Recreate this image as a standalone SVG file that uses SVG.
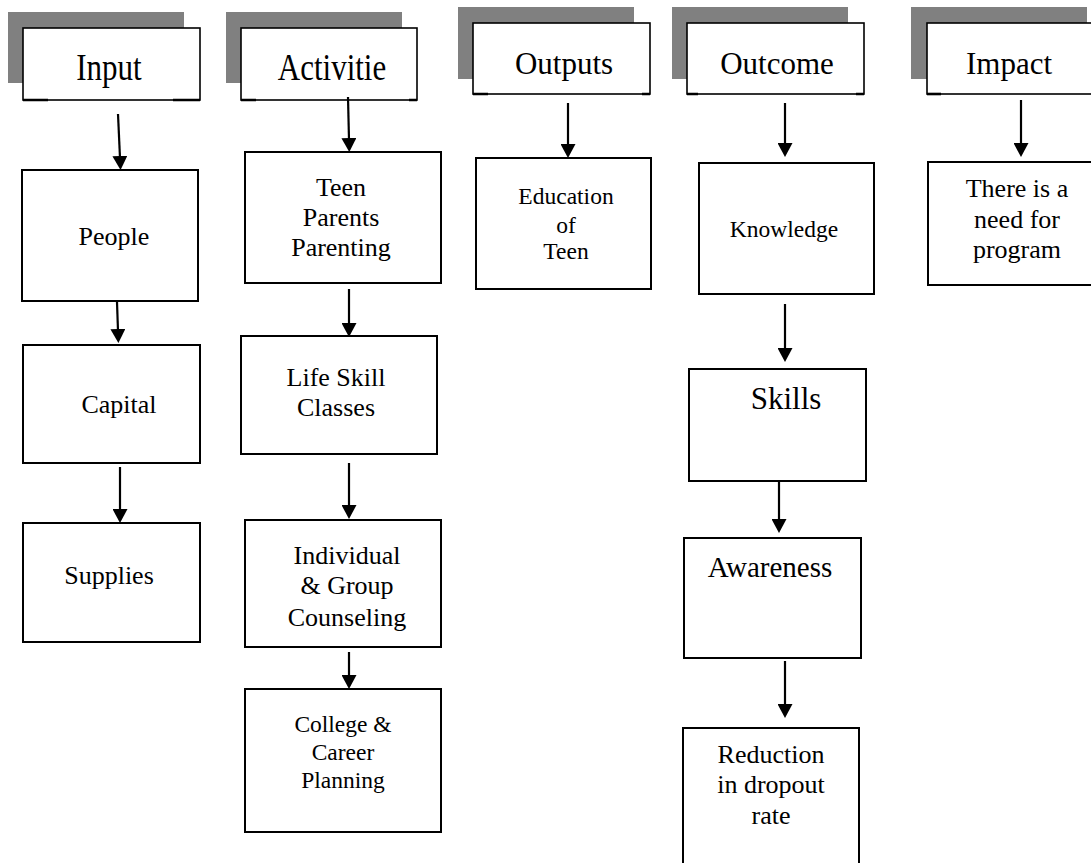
<svg xmlns="http://www.w3.org/2000/svg" width="1091" height="863" viewBox="0 0 1091 863">
<style>
text{font-family:"Liberation Serif","Times New Roman",serif;fill:#000;text-anchor:middle}
.h{font-size:31px}
.b{font-size:26px}
.s{font-size:23.5px}
.sh{fill:#808080;stroke:none}
.hb{fill:#fff;stroke:#000;stroke-width:1.6}
.hc{fill:none;stroke:#000;stroke-width:2.6}
.box{fill:#fff;stroke:#000;stroke-width:2}
.cn line{stroke:#000;stroke-width:2.2;marker-end:url(#ah)}
</style>
<defs>
<marker id="ah" markerWidth="15" markerHeight="15" refX="2" refY="7.5" orient="auto" markerUnits="userSpaceOnUse">
<path d="M0,0 L14,7.5 L0,15 Z" fill="#000"/>
</marker>
</defs>
<rect width="1091" height="863" fill="#fff"/>

<g id="h-input">
<rect class="sh" x="8" y="12" width="176" height="71"/>
<rect class="hb" x="23" y="28" width="177" height="72"/>
<path class="hc" d="M23,100 H48 M173,100 H200"/>
<text class="h" transform="translate(109,80) scale(1,1.2)">Input</text>
</g>
<g id="h-activities">
<rect class="sh" x="226" y="12" width="176" height="71"/>
<rect class="hb" x="241" y="28" width="176" height="72"/>
<path class="hc" d="M241,100 H256 M409,100 H417"/>
<text class="h" transform="translate(332,80) scale(1,1.2)">Activitie</text>
</g>
<g id="h-outputs">
<rect class="sh" x="458" y="7" width="176" height="72"/>
<rect class="hb" x="473" y="23" width="177" height="71"/>
<path class="hc" d="M473,94 H488 M642,94 H650"/>
<text class="h" x="564" y="74">Outputs</text>
</g>
<g id="h-outcome">
<rect class="sh" x="672" y="7" width="176" height="72"/>
<rect class="hb" x="687" y="23" width="177" height="71"/>
<path class="hc" d="M687,94 H698 M856,94 H864"/>
<text class="h" x="777" y="74">Outcome</text>
</g>
<g id="h-impact">
<rect class="sh" x="911" y="7" width="176" height="72"/>
<rect class="hb" x="927" y="23" width="177" height="71"/>
<path class="hc" d="M927,94 H941"/>
<text class="h" x="1009" y="74">Impact</text>
</g>

<g id="n-people">
<rect class="box" x="22" y="170" width="176" height="131"/>
<text class="b" x="114" y="245">People</text>
</g>
<g id="n-capital">
<rect class="box" x="23" y="345" width="177" height="118"/>
<text class="b" x="119" y="413">Capital</text>
</g>
<g id="n-supplies">
<rect class="box" x="23" y="523" width="177" height="119"/>
<text class="b" x="109" y="584">Supplies</text>
</g>

<g id="n-teen">
<rect class="box" x="245" y="152" width="196" height="131"/>
<text class="b" x="341" y="196">Teen</text>
<text class="b" x="341" y="226">Parents</text>
<text class="b" x="341" y="256">Parenting</text>
</g>
<g id="n-lifeskill">
<rect class="box" x="241" y="336" width="196" height="118"/>
<text class="b" x="336" y="386">Life Skill</text>
<text class="b" x="336" y="416">Classes</text>
</g>
<g id="n-counseling">
<rect class="box" x="245" y="520" width="196" height="127"/>
<text class="b" x="347" y="564">Individual</text>
<text class="b" x="347" y="594">&amp; Group</text>
<text class="b" x="347" y="626">Counseling</text>
</g>
<g id="n-college">
<rect class="box" x="245" y="689" width="196" height="143"/>
<text class="s" x="343" y="732">College &amp;</text>
<text class="s" x="343" y="760">Career</text>
<text class="s" x="343" y="788">Planning</text>
</g>

<g id="n-education">
<rect class="box" x="476" y="158" width="175" height="131"/>
<text class="s" x="566" y="204">Education</text>
<text class="s" x="566" y="233">of</text>
<text class="s" x="566" y="259">Teen</text>
</g>

<g id="n-knowledge">
<rect class="box" x="699" y="163" width="175" height="131"/>
<text class="s" x="784" y="237">Knowledge</text>
</g>
<g id="n-skills">
<rect class="box" x="689" y="369" width="177" height="112"/>
<text x="786" y="409" style="font-size:31px">Skills</text>
</g>
<g id="n-awareness">
<rect class="box" x="684" y="538" width="177" height="120"/>
<text x="770" y="577" style="font-size:29px">Awareness</text>
</g>
<g id="n-reduction">
<rect class="box" x="683" y="728" width="176" height="160"/>
<text class="b" x="771" y="763">Reduction</text>
<text class="b" x="771" y="793">in dropout</text>
<text class="b" x="771" y="824">rate</text>
</g>

<g id="n-need">
<rect class="box" x="928" y="162" width="177" height="123"/>
<text class="b" x="1017" y="197">There is a</text>
<text class="b" x="1017" y="228">need for</text>
<text class="b" x="1017" y="258">program</text>
</g>

<g id="connectors" class="cn">
<line x1="118" y1="114" x2="120" y2="158"/>
<line x1="117" y1="302" x2="118" y2="331"/>
<line x1="120" y1="467" x2="120" y2="511"/>
<line x1="348" y1="97" x2="349" y2="140"/>
<line x1="349" y1="289" x2="349" y2="325"/>
<line x1="349" y1="463" x2="349" y2="507"/>
<line x1="349" y1="652" x2="349" y2="677"/>
<line x1="568" y1="103" x2="568" y2="146"/>
<line x1="785" y1="103" x2="785" y2="145"/>
<line x1="785" y1="304" x2="785" y2="350"/>
<line x1="779" y1="481" x2="779" y2="521"/>
<line x1="785" y1="661" x2="785" y2="706"/>
<line x1="1021" y1="100" x2="1021" y2="145"/>
</g>
</svg>
